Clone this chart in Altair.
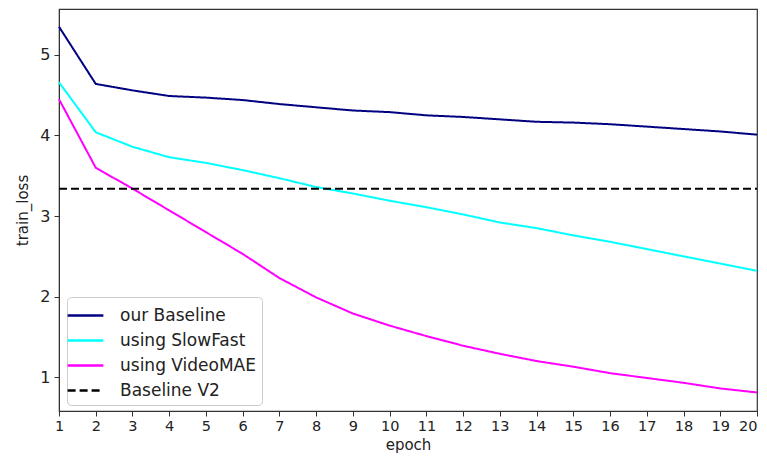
import altair as alt
import pandas as pd

epochs = list(range(1, 21))
our_baseline = [5.35, 4.64, 4.56, 4.49, 4.47, 4.44, 4.39, 4.35, 4.31, 4.29,
                4.25, 4.23, 4.20, 4.17, 4.16, 4.14, 4.11, 4.08, 4.05, 4.01]
slowfast = [4.66, 4.04, 3.86, 3.73, 3.66, 3.57, 3.47, 3.36, 3.28, 3.19,
            3.11, 3.02, 2.92, 2.85, 2.76, 2.68, 2.59, 2.50, 2.41, 2.32]
videomae = [4.45, 3.60, 3.34, 3.07, 2.80, 2.53, 2.23, 1.99, 1.79, 1.64,
            1.51, 1.39, 1.29, 1.20, 1.13, 1.05, 0.99, 0.93, 0.86, 0.81]
baseline_v2 = 3.34

series_names = ["our Baseline", "using SlowFast", "using VideoMAE", "Baseline V2"]
series_colors = ["#000080", "#00FFFF", "#FF00FF", "#000000"]
series_dash = [[1, 0], [1, 0], [1, 0], [8, 4]]

rows = []
for name, vals in zip(series_names[:3], [our_baseline, slowfast, videomae]):
    for e, v in zip(epochs, vals):
        rows.append({"epoch": e, "loss": v, "series": name})
for e in [epochs[0], epochs[-1]]:
    rows.append({"epoch": e, "loss": baseline_v2, "series": series_names[3]})
df = pd.DataFrame(rows)

font = "DejaVu Sans"

chart = alt.Chart(df).mark_line(strokeWidth=2).encode(
    x=alt.X("epoch:Q", title="epoch",
            scale=alt.Scale(domain=[1, 20], nice=False, zero=False),
            axis=alt.Axis(values=epochs, grid=False, tickSize=5, labelFontSize=14.5,
                          titleFontSize=15, labelColor="#222", titleColor="#222",
                          labelFont=font, titleFont=font, titleFontWeight="normal",
                          domainColor="#333", tickColor="#333", labelPadding=3,
                          labelAlign=alt.expr("datum.value == 20 ? 'right' : 'center'"),
                          titleBaseline="alphabetic", titleY=38,
                          labelFlush=False)),
    y=alt.Y("loss:Q", title="train_loss",
            scale=alt.Scale(domain=[0.58, 5.57], nice=False, zero=False),
            axis=alt.Axis(values=[1, 2, 3, 4, 5], grid=False, tickSize=5, labelFontSize=16,
                          titleFontSize=15, labelColor="#222", titleColor="#222",
                          labelFont=font, titleFont=font, titleFontWeight="normal",
                          domainColor="#333", tickColor="#333", labelPadding=4,
                          titlePadding=9)),
    color=alt.Color("series:N",
                    scale=alt.Scale(domain=series_names, range=series_colors),
                    legend=alt.Legend(title=None, orient="none", legendX=8, legendY=288,
                                      symbolType="M-1.6,0H1.6", symbolSize=500,
                                      symbolStrokeWidth=2.5, labelFontSize=17,
                                      labelFont=font, labelColor="#222",
                                      fillColor="white", strokeColor="#cccccc",
                                      cornerRadius=4, padding=6, rowPadding=4,
                                      labelOffset=22, labelLimit=300)),
    strokeDash=alt.StrokeDash("series:N",
                              scale=alt.Scale(domain=series_names, range=series_dash),
                              legend=None),
    detail="series:N",
).properties(
    width=698, height=402,
    autosize=alt.AutoSizeParams(type="none"),
    padding={"left": 51, "top": 1, "right": 2, "bottom": 42},
).configure_view(stroke="#333", strokeWidth=1.2)

chart.save("out.html", embed_options={"renderer": "svg", "actions": False})
